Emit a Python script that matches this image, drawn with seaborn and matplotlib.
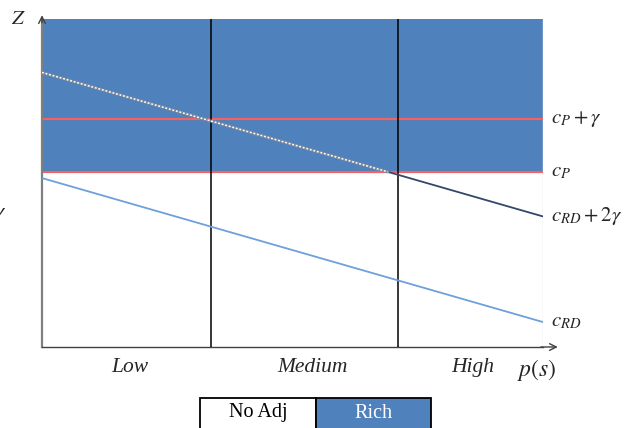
import matplotlib
matplotlib.use("Agg")
import matplotlib.pyplot as plt
from matplotlib.patches import Rectangle
import numpy as np
import pandas as pd
import seaborn as sns

# Cost levels (Z) against p(s), x normalised to [0, 1]
x_ends = [0.0, 1.0]
c_P = 5.34
gamma = 1.61
c_RD = [5.15, 0.76]                       # c_RD at both ends of p(s)
c_RD_2g = [v + 2 * gamma for v in c_RD]   # c_RD + 2*gamma
region_edges = [0.337, 0.711]             # Low | Medium | High boundaries
region_labels = ["Low", "Medium", "High"]
region_label_x = [0.175, 0.54, 0.86]
legend_labels = ["No Adj", "Rich"]

BLUE = "#4f81bd"
RED = "#f26464"
NAVY = "#33476a"
LIGHT = "#6f9fdc"

sns.set_theme(style="white")
plt.rcParams["font.family"] = ["Liberation Serif", "DejaVu Serif"]
plt.rcParams["mathtext.fontset"] = "stix"

fig = plt.figure(figsize=(6.32, 4.28), dpi=100)
W, H = 632, 428
ax = fig.add_axes([42 / W, (H - 347) / H, 501 / W, 328 / H])
y_top = 10.0
ax.set_xlim(0, 1)
ax.set_ylim(0, y_top)

# Shaded "Rich" region above c_P
ax.axhspan(c_P, y_top, color=BLUE, zorder=0, lw=0)
ax.axhline(c_P, color=RED, lw=1.6, zorder=2)
ax.axhline(c_P + gamma, color=RED, lw=1.6, zorder=2)

# Region boundaries
for xe in region_edges:
    ax.axvline(xe, color="black", lw=1.1, zorder=3)

df = pd.DataFrame({
    "p": x_ends * 2,
    "Z": c_RD + c_RD_2g,
    "curve": ["c_RD"] * 2 + ["c_RD+2g"] * 2,
})
sns.lineplot(data=df, x="p", y="Z", hue="curve",
             palette={"c_RD": LIGHT, "c_RD+2g": NAVY},
             linewidth=1.3, legend=False, ax=ax, zorder=4)

# Inside the shaded region the upper line is drawn as a light dotted stroke
slope = (c_RD_2g[1] - c_RD_2g[0]) / (x_ends[1] - x_ends[0])
x_cross = (c_P - c_RD_2g[0]) / slope
xs = np.array([0.0, x_cross])
ax.plot(xs, c_RD_2g[0] + slope * xs, color="#7a8aa0", lw=2.2, zorder=5)
ax.plot(xs, c_RD_2g[0] + slope * xs, color="white", lw=1.1,
        ls=(0, (1.2, 1.2)), zorder=6)

ax.set_xlabel("")
ax.set_ylabel("")
ax.set_xticks([])
ax.set_yticks([])
for s in ["top", "right"]:
    ax.spines[s].set_visible(False)
ax.spines["left"].set_color("#808080")
ax.spines["left"].set_linewidth(1.6)
ax.spines["bottom"].set_color("#404040")
ax.spines["bottom"].set_linewidth(1.0)
ax.axvline(1.0, color="#e4e4e4", lw=1.0, zorder=1)

# Axis arrows
ax.annotate("", xy=(0, 1.02), xytext=(0, 0.98), xycoords="axes fraction",
            arrowprops=dict(arrowstyle="->", color="#404040", lw=1.0))
ax.annotate("", xy=(1.035, 0), xytext=(0.99, 0), xycoords="axes fraction",
            arrowprops=dict(arrowstyle="->", color="#404040", lw=1.0))

# Axis and curve labels
fig.text(18 / W, 1 - 20 / H, r"$Z$", fontsize=15, ha="center", va="center")
fig.text(1 / W, 1 - 213 / H, r"$\gamma$", fontsize=15, ha="center", va="center")
fig.text(537 / W, 1 - 370 / H, r"$p(s)$", fontsize=17, ha="center", va="center")
for lab, lx in zip(region_labels, region_label_x):
    ax.text(lx, -0.064, lab, transform=ax.transAxes, fontsize=15.5,
            style="italic", ha="center", va="center")

right_labels = [
    (c_P + gamma, r"$c_P+\gamma$"),
    (c_P, r"$c_P$"),
    (c_RD_2g[1], r"$c_{RD}+2\gamma$"),
    (c_RD[1], r"$c_{RD}$"),
]
for yv, lab in right_labels:
    ax.text(1.015, yv, lab, transform=ax.get_yaxis_transform(),
            fontsize=15, ha="left", va="center", clip_on=False)

# Region key below the chart
key_y0 = (H - 432) / H
key_h = 34 / H
cells = [(200, 116, "white", "black"), (316, 115, BLUE, "white")]
for (cx, cw, fc, tc), lab in zip(cells, legend_labels):
    fig.patches.append(Rectangle((cx / W, key_y0), cw / W, key_h,
                                 transform=fig.transFigure, facecolor=fc,
                                 edgecolor="black", lw=1.3))
    fig.text((cx + cw / 2) / W, 1 - 413 / H, lab, fontsize=14.5, color=tc,
             ha="center", va="center")

fig.savefig("out.png", dpi=100)
